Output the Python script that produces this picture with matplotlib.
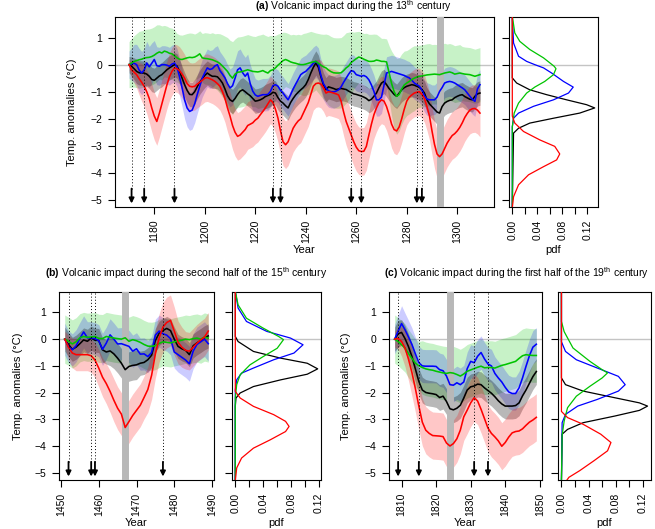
import numpy as np
import matplotlib
matplotlib.use('Agg')
import matplotlib.pyplot as pl

pl.rcParams['font.family'] = ['Liberation Sans', 'DejaVu Sans']
pl.rcParams['mathtext.fontset'] = 'custom'
pl.rcParams['mathtext.rm'] = 'Liberation Sans'
pl.rcParams['mathtext.bf'] = 'Liberation Sans:bold'

###############################################################
# (a) 13th century, yearly values
years_a = np.arange(1170, 1310)
red_a = [0, -0.19, -0.28, -0.37, -0.52, -0.65, -0.8, -1.0, -1.25, -1.6,
         -1.9, -2.1, -1.8, -1.45, -1.1, -0.75, -0.45, -0.25, -0.12, -0.15,
         -0.22, -0.35, -0.5, -0.7, -0.8, -0.82, -0.8, -0.72, -0.65, -0.58,
         -0.5, -0.48, -0.52, -0.56, -0.62, -0.7, -0.8, -1.0, -1.25, -1.6,
         -1.9, -2.25, -2.5, -2.65, -2.6, -2.5, -2.4, -2.25, -2.2, -2.15,
         -2.05, -1.98, -1.85, -1.73, -1.6, -1.45, -1.3, -1.4, -1.65, -1.98,
         -2.45, -2.85, -2.96, -2.85, -2.6, -2.35, -2.2, -2.08, -2.0, -1.8,
         -1.6, -1.4, -1.1, -0.8, -0.7, -0.68, -0.72, -0.85, -1.05, -1.0,
         -1.02, -1.05, -1.08, -1.12, -1.35, -1.75, -2.1, -2.35, -2.6, -2.85,
         -3.05, -3.18, -3.21, -3.2, -3.02, -2.6, -2.2, -1.85, -1.6, -1.4,
         -1.3, -1.35, -1.55, -1.85, -2.2, -2.4, -2.45, -2.3, -2.0, -1.65,
         -1.35, -1.2, -1.12, -1.05, -1.02, -1.0, -1.1, -1.25, -1.55, -1.9,
         -2.45, -2.95, -3.3, -3.4, -3.3, -3.1, -2.9, -2.75, -2.62, -2.55,
         -2.45, -2.32, -2.15, -1.95, -1.8, -1.68, -1.63, -1.62, -1.68, -1.79]
black_a = [0, -0.06, -0.15, -0.25, -0.3, -0.31, -0.31, -0.35, -0.43, -0.55,
           -0.58, -0.5, -0.42, -0.37, -0.28, -0.19, -0.12, -0.06, 0.0, -0.05,
           -0.25, -0.5, -0.74, -0.95, -1.1, -1.11, -1.0, -0.82, -0.65, -0.52,
           -0.4, -0.31, -0.38, -0.43, -0.43, -0.45, -0.55, -0.68, -0.9, -1.15,
           -1.3, -1.36, -1.25, -1.1, -0.98, -0.93, -1.0, -1.08, -1.15, -1.25,
           -1.35, -1.33, -1.3, -1.25, -1.18, -1.14, -1.1, -1.02, -1.05, -1.22,
           -1.35, -1.42, -1.52, -1.6, -1.4, -1.25, -1.12, -1.02, -0.93, -0.85,
           -0.74, -0.55, -0.31, -0.1, 0.06, -0.1, -0.45, -0.75, -0.93, -0.82,
           -0.85, -0.88, -0.92, -0.9, -0.88, -0.9, -0.92, -0.98, -1.03, -1.08,
           -1.1, -1.13, -1.16, -1.2, -1.25, -1.33, -1.28, -1.17, -1.05, -0.85,
           -0.68, -0.62, -0.74, -0.88, -0.99, -1.1, -1.17, -1.05, -0.93, -0.85,
           -0.8, -0.77, -0.74, -0.76, -0.8, -0.84, -0.92, -1.05, -1.3, -1.45,
           -1.55, -1.65, -1.75, -1.79, -1.55, -1.42, -1.36, -1.32, -1.3, -1.22,
           -1.17, -1.13, -1.11, -1.18, -1.23, -1.28, -1.3, -1.17, -1.08, -1.05]
blue_a = [0, 0.02, 0.05, 0.0, -0.2, -0.31, -0.2, 0.06, -0.08, 0.05,
          0.19, -0.04, -0.06, 0.0, 0.0, -0.02, -0.06, 0.02, 0.06, -0.1,
          -0.45, -0.85, -1.3, -1.6, -1.73, -1.68, -1.45, -1.11, -0.8, -0.5,
          -0.3, -0.12, -0.18, -0.15, -0.05, 0.0, -0.22, -0.35, -0.49, -0.7,
          -0.86, -0.78, -0.5, -0.19, -0.12, -0.3, -0.43, -0.31, -0.7, -0.98,
          -1.12, -1.17, -1.14, -1.11, -1.11, -1.1, -0.99, -0.78, -0.74, -0.8,
          -0.95, -1.05, -1.18, -1.3, -1.11, -0.9, -0.72, -0.55, -0.37, -0.3,
          -0.25, -0.15, -0.06, 0.05, 0.12, 0.02, -0.4, -0.7, -0.86, -0.97,
          -1.0, -1.01, -0.98, -0.93, -0.82, -0.65, -0.5, -0.35, -0.22, -0.25,
          -0.37, -0.4, -0.43, -0.4, -0.45, -0.56, -0.75, -0.99, -1.3, -1.3,
          -1.2, -0.75, -0.31, -0.28, -0.25, -0.28, -0.31, -0.34, -0.37, -0.4,
          -0.45, -0.49, -0.58, -0.68, -0.74, -0.8, -0.93, -1.15, -1.27, -1.3,
          -1.3, -1.3, -1.2, -0.99, -0.85, -0.68, -0.64, -0.62, -0.64, -0.68,
          -0.74, -0.8, -0.86, -0.93, -1.05, -1.17, -1.28, -1.36, -0.9, -0.74]
green_a = [0, 0.06, 0.12, 0.15, 0.18, 0.2, 0.24, 0.26, 0.27, 0.3,
           0.35, 0.42, 0.47, 0.43, 0.5, 0.47, 0.42, 0.4, 0.33, 0.25,
           0.2, 0.19, 0.22, 0.25, 0.27, 0.26, 0.28, 0.33, 0.4, 0.25,
           0.23, 0.22, 0.2, 0.18, 0.14, 0.1, 0.04, -0.05, -0.15, -0.25,
           -0.4, -0.5, -0.35, -0.28, -0.27, -0.25, -0.22, -0.19, -0.22, -0.25,
           -0.26, -0.27, -0.25, -0.22, -0.27, -0.31, -0.22, -0.19, -0.12, -0.02,
           0.06, 0.15, 0.19, 0.15, 0.1, 0.07, 0.05, 0.02, 0.0, 0.0,
           0.02, 0.05, 0.08, 0.1, 0.12, 0.05, -0.02, -0.08, -0.12, -0.2,
           -0.26, -0.3, -0.31, -0.31, -0.3, -0.22, -0.12, -0.05, 0.08, 0.15,
           0.22, 0.28, 0.25, 0.2, 0.16, 0.12, 0.12, 0.13, 0.17, 0.15,
           0.12, 0.12, 0.1, -0.3, -0.7, -1.0, -1.17, -1.1, -0.9, -0.75,
           -0.68, -0.62, -0.55, -0.5, -0.46, -0.43, -0.42, -0.4, -0.38, -0.37,
           -0.36, -0.35, -0.36, -0.37, -0.34, -0.31, -0.29, -0.27, -0.3, -0.35,
           -0.33, -0.31, -0.33, -0.35, -0.36, -0.37, -0.4, -0.43, -0.4, -0.37]
# half widths of the shaded ranges
green_a_sd = [0.85, 0.9, 0.95, 1.0, 1.05, 1.05, 1.05, 1.05, 1.05, 1.05,
              1.05, 1.05, 1.0, 1.0, 0.95, 0.95, 0.95, 0.95, 0.95, 0.9,
              0.9, 0.9, 0.9, 0.9, 0.9, 0.9, 0.85, 0.85, 0.85, 0.9,
              0.95, 0.95, 0.95, 1.0, 1.0, 1.05, 1.1, 1.15, 1.2, 1.25,
              1.3, 1.35, 1.3, 1.3, 1.3, 1.3, 1.3, 1.3, 1.3, 1.3,
              1.3, 1.35, 1.35, 1.35, 1.35, 1.35, 1.3, 1.25, 1.2, 1.15,
              1.1, 1.05, 1.0, 1.0, 1.0, 1.05, 1.05, 1.1, 1.1, 1.15,
              1.15, 1.15, 1.15, 1.1, 1.05, 1.1, 1.15, 1.2, 1.25, 1.3,
              1.3, 1.3, 1.3, 1.3, 1.3, 1.3, 1.3, 1.25, 1.15, 1.05,
              1.0, 0.95, 0.95, 0.95, 1.0, 1.0, 1.0, 1.0, 0.95, 0.9,
              0.85, 0.85, 0.85, 1.0, 1.2, 1.35, 1.4, 1.35, 1.3, 1.25,
              1.2, 1.2, 1.2, 1.2, 1.15, 1.15, 1.15, 1.15, 1.15, 1.15,
              1.1, 1.1, 1.1, 1.1, 1.1, 1.1, 1.05, 1.05, 1.05, 1.05,
              1.05, 1.05, 1.0, 1.0, 1.0, 1.0, 1.0, 1.0, 1.0, 1.0]
blue_a_sd = [0.5, 0.6, 0.7, 0.75, 0.8, 0.8, 0.8, 0.8, 0.75, 0.75] + [0.7] * 40 + [0.6] * 70 + [0.55] * 20
black_a_sd = [0.3, 0.35, 0.4, 0.45] + [0.45] * 136
red_a_sd = [0.2, 0.3, 0.4, 0.5, 0.6, 0.7, 0.75, 0.8] + [0.88] * 132
erupt_a = [1171, 1176, 1188, 1227, 1230, 1258, 1262, 1284, 1286]
grey_a = 1293

###############################################################
# (b) second half of the 15th century
years_b = np.arange(1451, 1490)
red_b = [0, -0.3, -0.52, -0.58, -0.58, -0.58, -0.58, -0.62, -0.78, -1.08,
         -1.42, -1.66, -1.95, -2.28, -2.58, -2.8, -3.3, -3.08, -2.85, -2.66,
         -2.47, -2.18, -1.88, -1.35, -0.55, 0.05, 0.45, 0.62, 0.7, 0.3,
         -0.12, -0.3, -0.42, -0.45, -0.3, -0.15, -0.03, 0.08, 0.3]
black_b = [0, -0.2, -0.38, -0.3, -0.17, -0.03, -0.08, 0.04, -0.04, -0.05,
           -0.4, -0.48, -0.44, -0.55, -0.71, -0.9, -1.14, -1.02, -0.98, -0.96,
           -0.9, -0.87, -0.77, -0.6, -0.05, 0.22, 0.32, 0.4, 0.32, 0.0,
           -0.27, -0.36, -0.42, -0.58, -0.25, -0.14, -0.05, 0.05, 0.12]
blue_b = [0, -0.28, -0.4, -0.25, 0.02, 0.27, 0.05, 0.05, 0.02, -0.06,
          -0.38, -0.15, 0.16, 0.0, -0.18, -0.17, -0.22, -0.27, -0.45, -0.36,
          -0.56, -0.55, -0.65, -0.5, 0.15, 0.3, 0.2, 0.15, 0.02, -0.48,
          -0.58, -0.68, -0.78, -0.92, -0.45, -0.2, -0.1, 0.0, -0.17]
green_b = [0, -0.08, -0.18, -0.1, 0.05, 0.1, 0.07, 0.08, 0.1, 0.03,
           0.02, 0.1, 0.07, 0.04, 0.02, 0.0, 0.05, -0.08, -0.02, -0.06,
           -0.12, -0.2, -0.26, -0.27, -0.24, -0.16, -0.1, -0.12, -0.14, -0.1,
           -0.07, -0.04, 0.0, -0.02, 0.02, 0.04, 0.0, 0.08, 0.04]
green_b_sd = [0.9] * 39
blue_b_sd = [0.6] * 30 + [0.65] * 9
black_b_sd = [0.45] * 12 + [0.55] * 8 + [0.45] * 19
red_b_sd = [0.3, 0.45, 0.55, 0.6, 0.6, 0.6, 0.6, 0.62, 0.65, 0.7,
            0.72, 0.75, 0.78, 0.8, 0.8, 0.8, 0.8, 0.8, 0.8, 0.8,
            0.8, 0.8, 0.85, 0.9, 0.9, 0.9, 0.92, 0.95, 0.95, 0.9,
            0.8, 0.75, 0.7, 0.7, 0.7, 0.7, 0.7, 0.7, 0.7]
erupt_b = [1452, 1458, 1459, 1477]
grey_b = 1467

###############################################################
# (c) first half of the 19th century
years_c = np.arange(1808, 1850)
red_c = [0, 0.03, -0.09, -0.33, -0.75, -1.25, -1.85, -2.5, -3.1, -3.4,
         -3.52, -3.6, -3.61, -3.62, -3.64, -3.88, -3.99, -3.9, -3.72, -3.4,
         -2.9, -2.65, -2.38, -2.19, -2.31, -2.62, -2.97, -3.32, -3.52, -3.65,
         -3.8, -4.0, -3.86, -3.66, -3.5, -3.45, -3.43, -3.35, -3.22, -3.1,
         -3.02, -2.92]
black_c = [0, 0.2, 0.25, 0.02, -0.28, -0.65, -1.12, -1.58, -1.9, -1.99,
           -2.02, -2.04, -2.07, -2.18, -2.13, -2.33, -2.6, -2.64, -2.58, -2.47,
           -2.2, -1.9, -1.78, -1.75, -1.68, -1.7, -1.82, -1.92, -2.02, -2.15,
           -2.3, -2.42, -2.5, -2.5, -2.5, -2.48, -2.38, -2.12, -1.9, -1.65,
           -1.4, -1.21]
blue_c = [0, 0.3, 0.58, 0.35, 0.08, -0.2, -0.55, -0.88, -1.0, -1.01,
          -1.01, -1.01, -1.02, -1.14, -1.18, -1.38, -1.7, -1.72, -1.63, -1.7,
          -1.6, -1.1, -0.83, -0.88, -0.64, -0.5, -0.74, -0.93, -1.0, -1.28,
          -1.45, -1.6, -1.8, -1.97, -2.03, -2.03, -1.82, -1.45, -1.02, -0.62,
          -0.3, -0.19]
green_c = [0, -0.09, -0.21, -0.33, -0.54, -0.72, -0.9, -0.99, -1.06, -1.11,
           -1.14, -1.16, -1.2, -1.23, -1.26, -1.28, -1.25, -1.27, -1.32, -1.38,
           -1.3, -1.2, -1.15, -1.1, -1.05, -1.01, -1.07, -1.06, -1.06, -1.08,
           -1.03, -0.98, -0.95, -0.91, -0.87, -0.83, -0.72, -0.62, -0.58, -0.6,
           -0.61, -0.61]
green_c_sd = [0.9] * 8 + [1.0] * 34
blue_c_sd = [0.55, 0.6, 0.67] + [0.62] * 39
black_c_sd = [0.45, 0.5] + [0.48] * 40
red_c_sd = [0.3, 0.4, 0.55, 0.7, 0.8] + [0.88] * 37
erupt_c = [1809, 1815, 1831, 1835]
grey_c = 1824

###############################################################
# pdf curves: (temperature, density) pairs
pdf_a = {
    'black': ([1.8, -0.49, -0.68, -0.93, -1.11, -1.3, -1.48, -1.6, -1.79, -1.98, -2.16, -2.35, -2.53, -5.3],
              [0, 0, 0.007, 0.028, 0.055, 0.087, 0.119, 0.132, 0.108, 0.066, 0.028, 0.01, 0.002, 0]),
    'blue': ([1.8, 0.8, 0.31, 0.12, 0.0, -0.12, -0.31, -0.62, -0.83, -1.05, -1.3, -1.54, -1.79, -1.98, -2.3, -5.3],
             [0, 0.002, 0.01, 0.023, 0.036, 0.05, 0.063, 0.082, 0.0976, 0.09, 0.066, 0.034, 0.01, 0.002, 0, 0]),
    'green': ([1.8, 1.17, 0.86, 0.56, 0.25, -0.06, -0.15, -0.37, -0.62, -0.83, -1.05, -1.42, -1.79, -2.3, -5.3],
              [0, 0.004, 0.012, 0.028, 0.05, 0.067, 0.070, 0.066, 0.052, 0.036, 0.023, 0.01, 0.003, 0, 0]),
    'red': ([1.8, -1.9, -2.16, -2.47, -2.78, -3.02, -3.3, -3.52, -3.77, -4.07, -4.44, -4.88, -5.3],
            [0, 0, 0.004, 0.018, 0.044, 0.068, 0.076, 0.071, 0.05, 0.026, 0.01, 0.002, 0]),
}
pdf_b = {
    'black': ([1.8, 0.1, -0.09, -0.46, -0.71, -0.9, -1.11, -1.31, -1.52, -1.77, -2.01, -2.2, -2.5, -5.3],
              [0, 0, 0.004, 0.026, 0.065, 0.103, 0.118, 0.103, 0.065, 0.026, 0.007, 0.001, 0, 0]),
    'blue': ([1.8, 1.16, 0.66, 0.29, 0.04, -0.21, -0.52, -0.77, -1.08, -1.27, -1.52, -1.9, -5.3],
             [0, 0.004, 0.016, 0.045, 0.079, 0.097, 0.084, 0.055, 0.026, 0.009, 0.002, 0, 0]),
    'green': ([1.8, 1.28, 0.78, 0.41, 0.1, -0.02, -0.34, -0.65, -0.96, -1.33, -1.7, -2.2, -5.3],
              [0, 0.004, 0.016, 0.04, 0.062, 0.069, 0.06, 0.04, 0.021, 0.007, 0.002, 0, 0]),
    'red': ([1.8, -1.95, -2.2, -2.51, -2.82, -3.07, -3.26, -3.45, -3.76, -4.07, -4.44, -4.81, -5.3],
            [0, 0, 0.007, 0.026, 0.055, 0.072, 0.077, 0.072, 0.05, 0.026, 0.009, 0.002, 0]),
}
pdf_c = {
    'black': ([1.8, -1.45, -1.7, -1.94, -2.19, -2.38, -2.5, -2.66, -2.87, -3.12, -3.37, -3.55, -5.3],
              [0, 0, 0.006, 0.032, 0.079, 0.115, 0.127, 0.115, 0.079, 0.032, 0.009, 0.001, 0]),
    'blue': ([1.8, -0.1, -0.46, -0.77, -1.08, -1.39, -1.7, -1.94, -2.25, -2.5, -2.81, -3.12, -5.3],
             [0, 0, 0.006, 0.022, 0.053, 0.084, 0.094, 0.084, 0.053, 0.024, 0.006, 0.001, 0]),
    'green': ([1.8, 0.66, 0.28, -0.33, -0.83, -1.14, -1.26, -1.45, -1.76, -2.13, -2.56, -3.06, -3.6, -5.3],
              [0, 0, 0.004, 0.017, 0.042, 0.06, 0.068, 0.06, 0.042, 0.022, 0.009, 0.004, 0.001, 0]),
    'red': ([1.8, -2.7, -2.93, -3.18, -3.55, -3.86, -4.17, -4.54, -4.91, -5.16, -5.3],
            [0, 0, 0.009, 0.032, 0.058, 0.073, 0.068, 0.048, 0.027, 0.011, 0.007]),
}

cols = {'green': '#00c400', 'blue': '#0000ff', 'black': '#000000', 'red': '#ff0000'}
order = ['black', 'blue', 'green', 'red']
YLIM = (-5.26, 1.76)
W, H = 655., 529.


def box(x0, y0, x1, y1):
    # pixel box (top-left origin) -> figure fraction
    return [x0 / W, 1 - y1 / H, (x1 - x0) / W, (y1 - y0) / H]


def style(ax):
    for s in ax.spines.values():
        s.set_linewidth(0.8)
    ax.tick_params(direction='out', length=5, width=0.8, labelsize=7.5, pad=4)
    ax.set_ylim(YLIM)
    ax.set_yticks([-5, -4, -3, -2, -1, 0, 1])


def plot_main(ax, years, lines, sds, erupt, grey, xticks, ylab_x):
    style(ax)
    ax.axhline(0, color='#c4c4c4', lw=1, zorder=1)
    fill_alpha = {'green': 0.22, 'blue': 0.2, 'black': 0.28, 'red': 0.22}
    for name in ['green', 'blue', 'black', 'red']:
        v = np.array(lines[name])
        sd = np.array(sds[name])
        ax.fill_between(years, v - sd, v + sd, color=cols[name],
                        alpha=fill_alpha[name], linewidth=0, zorder=2)
    ax.axvline(grey, color='#b8b8b8', lw=5, zorder=3)
    for name in order:
        ax.plot(years, lines[name], color=cols[name], lw=1.15, zorder=4)
    for yr in erupt:
        ax.plot([yr, yr], [-4.58, 1.76], color='k', lw=0.7,
                ls=(0, (1, 2.2)), zorder=5)
        ax.annotate('', xy=(yr, -5.13), xytext=(yr, -4.58),
                    arrowprops=dict(arrowstyle='-|>', color='k', lw=1.3,
                                    mutation_scale=7.5, shrinkA=0, shrinkB=0),
                    zorder=6)
    span = years[-1] - years[0]
    ax.set_xlim(years[0] - 0.04 * span, years[-1] + 0.04 * span)
    ax.set_xticks(xticks)
    ax.set_xticklabels([str(t) for t in xticks], rotation=90)
    ax.set_yticklabels([u'\u22125', u'\u22124', u'\u22123', u'\u22122', u'\u22121', '0', '1'])
    ax.set_ylabel(u'Temp. anomalies (\u00b0C)', fontsize=8)
    ax.yaxis.set_label_coords(ylab_x, 0.5)
    ax.set_xlabel('Year', fontsize=8)
    ax.xaxis.set_label_coords(0.5, -0.2)


def plot_pdf(ax, pdf):
    style(ax)
    ax.axhline(0, color='#c4c4c4', lw=1, zorder=1)
    pmax = 0
    for name in order:
        t, p = pdf[name]
        ax.plot(p, t, color=cols[name], lw=0.9, zorder=3)
        pmax = max(pmax, max(p))
    ax.set_xlim(-0.04 * pmax, 1.04 * pmax)
    ax.set_yticklabels([])
    ticks = [0.0, 0.02, 0.04, 0.06, 0.08, 0.10, 0.12]
    ax.set_xticks(ticks)
    ax.set_xticklabels(['0.00', '', '0.04', '', '0.08', '', '0.12'], rotation=90)
    ax.set_xlabel('pdf', fontsize=8)
    ax.xaxis.set_label_coords(0.5, -0.2)


fig = pl.figure(figsize=(6.55, 5.29), dpi=100)

ax_a = fig.add_axes(box(115, 17, 494, 207))
ax_ap = fig.add_axes(box(509, 17, 598, 207))
ax_b = fig.add_axes(box(59, 292, 214, 480))
ax_bp = fig.add_axes(box(232, 292, 321, 480))
ax_c = fig.add_axes(box(389, 292, 542, 480))
ax_cp = fig.add_axes(box(558, 292, 651, 480))

plot_main(ax_a, years_a,
          {'red': red_a, 'black': black_a, 'blue': blue_a, 'green': green_a},
          {'red': red_a_sd, 'black': black_a_sd, 'blue': blue_a_sd, 'green': green_a_sd},
          erupt_a, grey_a, [1180, 1200, 1220, 1240, 1260, 1280, 1300], -0.1)
plot_pdf(ax_ap, pdf_a)
plot_main(ax_b, years_b,
          {'red': red_b, 'black': black_b, 'blue': blue_b, 'green': green_b},
          {'red': red_b_sd, 'black': black_b_sd, 'blue': blue_b_sd, 'green': green_b_sd},
          erupt_b, grey_b, [1450, 1460, 1470, 1480, 1490], -0.23)
plot_pdf(ax_bp, pdf_b)
plot_main(ax_c, years_c,
          {'red': red_c, 'black': black_c, 'blue': blue_c, 'green': green_c},
          {'red': red_c_sd, 'black': black_c_sd, 'blue': blue_c_sd, 'green': green_c_sd},
          erupt_c, grey_c, [1810, 1820, 1830, 1840, 1850], -0.25)
plot_pdf(ax_cp, pdf_c)

fig.text(354 / W, 1 - 10.5 / H,
         r'$\mathbf{(a)}$ Volcanic impact during the 13$^{\mathrm{th}}$ century',
         ha='center', va='baseline', fontsize=7.5)
fig.text(186.5 / W, 1 - 277 / H,
         r'$\mathbf{(b)}$ Volcanic impact during the second half of the 15$^{\mathrm{th}}$ century',
         ha='center', va='baseline', fontsize=7.5)
fig.text(516.5 / W, 1 - 277 / H,
         r'$\mathbf{(c)}$ Volcanic impact during the first half of the 19$^{\mathrm{th}}$ century',
         ha='center', va='baseline', fontsize=7.5)

pl.savefig('out.png', dpi=100)
pl.close()
